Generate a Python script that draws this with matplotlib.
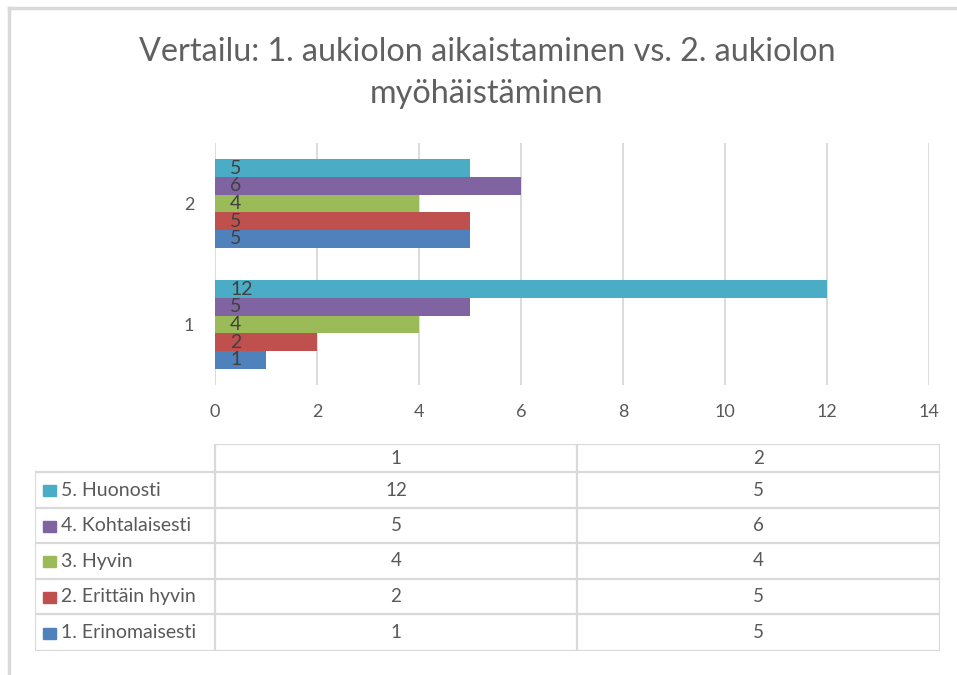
import matplotlib.pyplot as plt
from matplotlib.patches import Rectangle
from matplotlib.lines import Line2D
import numpy as np

plt.rcParams['font.family'] = ['Lato', 'DejaVu Sans']

# data
categories = ['1', '2']
series_names = ['1. Erinomaisesti', '2. Erittäin hyvin', '3. Hyvin',
                '4. Kohtalaisesti', '5. Huonosti']
erinomaisesti = [1, 5]
erittain_hyvin = [2, 5]
hyvin = [4, 4]
kohtalaisesti = [5, 6]
huonosti = [12, 5]
series = [erinomaisesti, erittain_hyvin, hyvin, kohtalaisesti, huonosti]
colors = ['#4F81BD', '#C0504D', '#9BBB59', '#8064A2', '#4BACC6']
title = 'Vertailu: 1. aukiolon aikaistaminen vs. 2. aukiolon\nmyöhäistäminen'

W, H = 957, 675
TXT = '#595959'
GRID = '#D9D9D9'


def px(x0, y0, x1, y1):
    return [x0 / W, 1 - y1 / H, (x1 - x0) / W, (y1 - y0) / H]


fig = plt.figure(figsize=(W / 100, H / 100), dpi=100)

# chart frame (top and left edges visible)
fig.add_artist(Line2D([9 / W, 9 / W], [0, 1 - 8 / H], color=GRID, lw=2.5))
fig.add_artist(Line2D([9 / W, 1], [1 - 8 / H, 1 - 8 / H], color=GRID, lw=2.5))

fig.text(487 / W, 1 - 73 / H, title, ha='center', va='center', fontsize=23.3,
         color='#606060', fontweight='normal', linespacing=1.5)

# bars
ax = fig.add_axes(px(215, 143, 929, 385))
bar_h = 0.146
y = np.arange(len(categories))
for i, (vals, c) in enumerate(zip(series, colors)):
    bars = ax.barh(y + (i - 2) * bar_h, vals, height=bar_h, color=c, zorder=2)
    for b, v in zip(bars, vals):
        ax.annotate(str(v), (0, b.get_y() + b.get_height() / 2), xytext=(15, 0),
                    textcoords='offset pixels', ha='left', va='center',
                    fontsize=14, color='#404040', zorder=3)

ax.set_xlim(0, 14)
ax.set_ylim(-0.5, 1.5)
ax.set_xticks(range(0, 15, 2))
ax.set_yticks(y)
ax.set_yticklabels(categories)
ax.grid(axis='x', color=GRID, lw=1.3, zorder=0)
for s in ax.spines.values():
    s.set_visible(False)
ax.tick_params(axis='x', length=0, pad=14, labelsize=13, labelcolor=TXT)
ax.tick_params(axis='y', length=0, pad=15, labelsize=13, labelcolor=TXT)

# data table
tax = fig.add_axes(px(35, 444, 940, 651))
tax.set_xlim(35, 940)
tax.set_ylim(651, 444)
tax.axis('off')

col_x = [35, 215, 577, 940]
row_y = [444, 472, 508, 543, 579, 614, 651]
lk = dict(color=GRID, lw=1.6, solid_capstyle='projecting')
tax.plot([col_x[1], col_x[3]], [row_y[0], row_y[0]], **lk)
for ry in row_y[1:]:
    tax.plot([col_x[0], col_x[3]], [ry, ry], **lk)
tax.plot([col_x[0], col_x[0]], [row_y[1], row_y[-1]], **lk)
for cx in col_x[1:]:
    tax.plot([cx, cx], [row_y[0], row_y[-1]], **lk)

for j, cat in enumerate(categories):
    tax.text((col_x[j + 1] + col_x[j + 2]) / 2, (row_y[0] + row_y[1]) / 2 + 1, cat,
             ha='center', va='center', fontsize=13.5, color=TXT)

for r, k in enumerate(range(len(series) - 1, -1, -1)):
    yc = (row_y[r + 1] + row_y[r + 2]) / 2
    tax.add_patch(Rectangle((43, yc - 5), 13, 11, color=colors[k]))
    tax.text(61, yc, series_names[k], ha='left', va='center', fontsize=14, color=TXT)
    for j, v in enumerate(series[k]):
        tax.text((col_x[j + 1] + col_x[j + 2]) / 2, yc, str(v),
                 ha='center', va='center', fontsize=13.5, color=TXT)

fig.savefig('out.png', dpi=100)
